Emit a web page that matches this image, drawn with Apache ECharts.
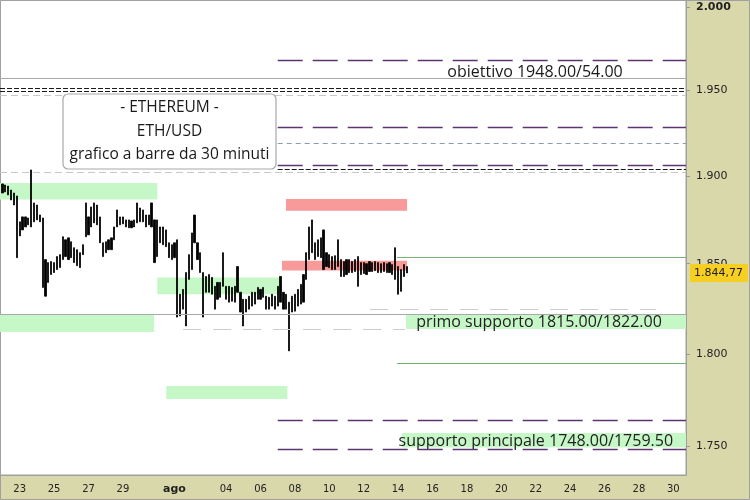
<!DOCTYPE html>
<html><head><meta charset="utf-8">
<script src="https://cdn.jsdelivr.net/npm/echarts@6/dist/echarts.min.js"></script>
<style>html,body{margin:0;padding:0;background:#d9d8aa}#c{width:750px;height:500px}</style>
</head><body><div id="c"></div>
<script>
// ---------------- DATA ----------------
const barStart = '2023-07-22 00:00';
const barHours = 4;
const highs = [1895.4,1894.8,1894.2,1891.9,1890.2,1888.5,1873.7,1876.5,1876.5,1875.9,
1903.5,1884.5,1883.3,1877.6,1875.9,1852.3,1850.6,1851.2,1850.6,1854.0,
1855.1,1865.2,1863.5,1864.6,1862.4,1859.0,1857.9,1856.2,1860.7,1884.5,
1876.5,1882.2,1884.5,1883.3,1876.5,1861.8,1862.4,1863.5,1864.6,1870.8,
1880.5,1876.5,1876.5,1874.8,1874.8,1874.2,1874.8,1884.5,1881.6,1880.5,
1877.6,1877.6,1884.5,1874.8,1874.8,1870.8,1870.8,1869.1,1861.8,1860.7,
1861.8,1863.5,1832.9,1835.6,1845.0,1855.1,1867.4,1877.6,1861.8,1856.2,
1845.0,1842.8,1843.9,1842.3,1837.3,1839.5,1839.5,1856.2,1837.3,1837.3,
1836.7,1837.3,1848.4,1834.0,1830.1,1830.1,1831.8,1834.0,1834.0,1836.7,
1835.6,1836.7,1831.8,1831.2,1832.9,1831.8,1837.3,1842.8,1834.0,1832.9,
1828.5,1831.8,1832.9,1835.6,1838.4,1843.9,1856.2,1870.8,1874.8,1861.8,
1863.5,1864.6,1869.1,1856.2,1855.1,1854.0,1854.5,1863.5,1852.3,1851.2,
1852.3,1852.3,1851.2,1852.3,1854.0,1850.6,1850.6,1850.0,1851.2,1850.6,
1851.2,1850.6,1850.0,1850.6,1850.0,1850.6,1849.5,1859.0,1848.4,1846.7,
1849.5,1848.4];
const lows = [1890.2,1890.8,1889.1,1886.2,1883.3,1853.4,1865.7,1869.1,1870.8,1872.0,
1870.8,1873.7,1874.8,1873.7,1836.7,1831.8,1839.5,1843.9,1845.0,1846.7,
1847.8,1852.3,1854.0,1852.3,1853.4,1850.6,1848.9,1847.8,1855.1,1865.2,
1866.3,1870.8,1873.1,1872.0,1861.8,1854.0,1856.2,1857.9,1857.9,1863.5,
1870.8,1872.0,1872.5,1870.8,1870.3,1870.3,1870.8,1873.1,1873.7,1873.7,
1870.8,1872.0,1870.8,1850.6,1854.0,1861.8,1860.7,1859.6,1853.4,1852.3,
1853.4,1820.2,1820.8,1824.6,1815.3,1841.2,1846.7,1861.8,1852.3,1845.0,
1820.2,1834.0,1834.0,1832.9,1824.6,1830.1,1831.2,1837.3,1830.1,1828.5,
1829.0,1828.5,1834.0,1823.0,1815.3,1823.0,1824.6,1826.3,1827.4,1830.1,
1830.1,1831.2,1824.6,1824.6,1826.3,1824.6,1826.3,1828.5,1824.6,1824.6,
1801.6,1823.0,1823.5,1826.3,1827.4,1828.5,1841.2,1852.3,1856.2,1852.3,
1854.0,1853.4,1846.7,1848.4,1847.8,1846.7,1846.7,1848.4,1842.8,1842.8,
1843.9,1845.0,1845.0,1845.6,1837.3,1843.9,1844.5,1843.9,1845.6,1845.6,
1846.1,1845.0,1845.0,1845.6,1845.0,1845.0,1843.9,1841.2,1832.9,1834.5,
1842.8,1844.8];
const lastPrice = 1844.77;
const lastPriceLabel = '1.844,77';

const xRange = ['2023-07-21 20:30', '2023-08-30 17:45'];
const yRange = [1734.9, 2004.4];
const xTickDates = ['2023-07-23','2023-07-25','2023-07-27','2023-07-29','2023-08-01','2023-08-04','2023-08-06',
  '2023-08-08','2023-08-10','2023-08-12','2023-08-14','2023-08-16','2023-08-18','2023-08-20','2023-08-22',
  '2023-08-24','2023-08-26','2023-08-28','2023-08-30'];
const xTickLabels = ['23','25','27','29','ago','04','06','08','10','12','14','16','18','20','22','24','26','28','30'];
const yTickValues = [1750, 1800, 1850, 1900, 1950, 2000];
const yTickLabels = ['1.750','1.800','1.850','1.900','1.950','2.000'];

const fullGrayLevels = [1957.4, 1822.0];
const fullBlackDashLevels = [1951.5, 1949.4];
const fullLightDashLevels = [1947.4, 1901.9];
const projectionStart = '2023-08-07 00:00';
const purpleLevels = [1968.2, 1928.6, 1906.4, 1764.2, 1748.3];
const blueDashLevels = [1919.2];
const blackDashLevels = [1903.9];
const greenLineStart = '2023-08-13 22:30';
const greenLineLevels = [1853.6, 1795.0];
const lightDashSegments = [['2023-08-12 09:00', '2023-08-29 00:00', 1824.7], ['2023-08-01 12:00', '2023-08-14 09:30', 1813.7]];
// [from, to, low, high, text]  (null = edge of chart)
const greenZones = [
  [null, '2023-07-31 00:00', 1886.5, 1896.0, ''],
  ['2023-07-31 00:00', '2023-08-07 02:00', 1832.9, 1842.3, ''],
  [null, '2023-07-30 19:30', 1812.0, 1821.4, ''],
  ['2023-07-31 12:30', '2023-08-07 13:30', 1775.5, 1782.5, ''],
  ['2023-08-14 11:00', null, 1813.7, 1821.9, 'primo supporto 1815.00/1822.00'],
  ['2023-08-14 05:00', null, 1749.5, 1757.2, 'supporto principale 1748.00/1759.50']
];
const redZones = [
  ['2023-08-07 11:30', '2023-08-14 12:30', 1880.0, 1886.8],
  ['2023-08-07 06:00', '2023-08-14 12:30', 1846.2, 1851.7]
];
const titleLines = ['- ETHEREUM -', 'ETH/USD', 'grafico a barre da 30 minuti'];
const targetText = 'obiettivo 1948.00/54.00';

// ---------------- BUILD ----------------
function T(s) {
  const parts = s.split(' ');
  const d = parts[0].split('-').map(Number);
  const h = (parts[1] || '00:00').split(':').map(Number);
  return new Date(d[0], d[1] - 1, d[2], h[0], h[1]).getTime();
}
const xMin = T(xRange[0]), xMax = T(xRange[1]);
const t0 = T(barStart);
const bars = highs.map((h, i) => [t0 + i * barHours * 3600e3, lows[i], h, lows[i], h]);
const xTickTimes = xTickDates.map(T);

const FONT = '"Open Sans", "Noto Sans", sans-serif';
const styles = {
  gray: { color: '#a8a8a8', width: 1.2, type: 'solid' },
  blackDash: { color: '#1a1a1a', width: 1, type: [5, 2] },
  lightDash: { color: '#c8c8c8', width: 1.2, type: [7, 4] },
  purple: { color: '#5e3470', width: 1.3, type: [25, 10] },
  blue: { color: '#8a9ab8', width: 1, type: [5, 4] },
  green: { color: '#74b074', width: 1.2, type: 'solid' },
  lightLong: { color: '#cccccc', width: 1.2, type: [18, 12] }
};
const ml = [];
fullGrayLevels.forEach(v => ml.push({ yAxis: v, lineStyle: styles.gray }));
fullBlackDashLevels.forEach(v => ml.push({ yAxis: v, lineStyle: styles.blackDash }));
fullLightDashLevels.forEach(v => ml.push({ yAxis: v, lineStyle: styles.lightDash }));
const seg = (a, b, v, st) => ml.push([{ coord: [a, v], lineStyle: st }, { coord: [b, v] }]);
purpleLevels.forEach(v => seg(T(projectionStart), xMax, v, styles.purple));
blueDashLevels.forEach(v => seg(T(projectionStart), xMax, v, styles.blue));
blackDashLevels.forEach(v => seg(T(projectionStart), xMax, v, styles.blackDash));
greenLineLevels.forEach(v => seg(T(greenLineStart), xMax, v, styles.green));
lightDashSegments.forEach(s => seg(T(s[0]), T(s[1]), s[2], styles.lightLong));
ml.push({
  yAxis: lastPrice, lineStyle: { color: 'rgba(0,0,0,0)', width: 1 },
  label: {
    show: true, position: 'end', distance: 4, formatter: lastPriceLabel,
    backgroundColor: '#f6cf22', color: '#222', padding: [4, 5, 3, 4],
    fontFamily: 'DejaVu Sans', fontSize: 11
  }
});

const labelOffsets = [null, null, null, null, [-7, 1], [-8, 1]];
const ma = [];
greenZones.forEach((z, i) => {
  ma.push([{
    xAxis: z[0] ? T(z[0]) : xMin, yAxis: z[2],
    itemStyle: { color: '#c6f7c6' },
    label: z[4] ? { show: true, position: 'inside', formatter: z[4], color: '#222',
      fontFamily: FONT, fontSize: 16, offset: labelOffsets[i] } : { show: false }
  }, { xAxis: z[1] ? T(z[1]) : xMax, yAxis: z[3] }]);
});
redZones.forEach(z => {
  ma.push([{ xAxis: T(z[0]), yAxis: z[2], itemStyle: { color: '#f89a9a' }, label: { show: false } },
           { xAxis: T(z[1]), yAxis: z[3] }]);
});

const chart = echarts.init(document.getElementById('c'), null, { renderer: 'canvas' });
chart.setOption({
  animation: false,
  backgroundColor: '#d9d8aa',
  grid: { left: 0, right: 64, top: 0, bottom: 25, show: true, backgroundColor: '#ffffff',
          borderColor: '#a0a0a0', borderWidth: 1, containLabel: false, outerBoundsMode: 'none' },
  xAxis: {
    type: 'value', min: xMin, max: xMax, scale: true,
    axisLine: { show: true, lineStyle: { color: '#a0a0a0' } },
    axisTick: { show: false }, splitLine: { show: false },
    axisLabel: {
      customValues: xTickTimes, color: '#222', fontFamily: 'DejaVu Sans', fontSize: 10, margin: 9,
      formatter: function (v) {
        const i = xTickTimes.findIndex(t => Math.abs(t - v) < 60000);
        const s = i >= 0 ? xTickLabels[i] : '';
        return s === 'ago' ? '{b|' + s + '}' : s;
      },
      rich: { b: { fontWeight: 'bold', fontFamily: 'DejaVu Sans', fontSize: 11, color: '#222' } }
    }
  },
  yAxis: {
    type: 'log', logBase: 10, min: yRange[0], max: yRange[1], position: 'right',
    axisLine: { show: true, lineStyle: { color: '#a0a0a0' } },
    axisTick: { show: true, length: 4, customValues: yTickValues, lineStyle: { color: '#999' } },
    splitLine: { show: false },
    axisLabel: {
      customValues: yTickValues, color: '#222', fontFamily: 'DejaVu Sans', fontSize: 11, margin: 10,
      formatter: function (v) {
        const i = yTickValues.findIndex(t => Math.abs(t - v) < 0.5);
        const s = i >= 0 ? yTickLabels[i] : '';
        return v >= 1999 ? '{b|' + s + '}' : s;
      },
      rich: { b: { fontWeight: 'bold', fontFamily: 'DejaVu Sans', fontSize: 11, color: '#222' } }
    }
  },
  series: [{
    type: 'candlestick',
    clip: false,
    data: bars,
    encode: { x: 0, y: [1, 2, 3, 4] },
    barWidth: 1.7,
    itemStyle: { color: '#000', color0: '#000', borderColor: '#000', borderColor0: '#000', borderWidth: 0.8 },
    markArea: { silent: true, data: ma },
    markLine: { silent: true, symbol: ['none', 'none'], label: { show: false }, data: ml }
  }],
  graphic: [
    { type: 'rect', shape: { x: 0.5, y: 0.5, width: 749, height: 499 }, style: { fill: 'none', stroke: '#a0a0a0' }, silent: true },
    { type: 'rect', shape: { x: 63, y: 94, width: 213, height: 75, r: 5 }, style: { fill: '#fff', stroke: '#a8a8a8', lineWidth: 1.2 }, z: 100 },
    { type: 'text', x: 169.5, y: 108, z: 101, style: { text: titleLines[0], fill: '#1a1a1a', font: '15.5px ' + FONT, align: 'center', verticalAlign: 'middle' } },
    { type: 'text', x: 169.5, y: 132, z: 101, style: { text: titleLines[1], fill: '#1a1a1a', font: '15.5px ' + FONT, align: 'center', verticalAlign: 'middle' } },
    { type: 'text', x: 169.5, y: 155, z: 101, style: { text: titleLines[2], fill: '#1a1a1a', font: '15.5px ' + FONT, align: 'center', verticalAlign: 'middle' } },
    { type: 'text', x: 535, y: 72, z: 101, style: { text: targetText, fill: '#1a1a1a', font: '16px ' + FONT, align: 'center', verticalAlign: 'middle' } }
  ]
});
</script></body></html>
